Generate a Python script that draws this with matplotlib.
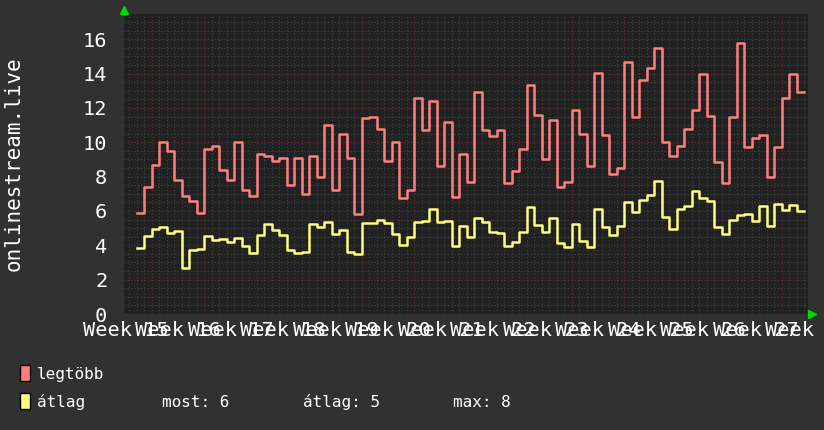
import numpy as np
import matplotlib
matplotlib.use('Agg')
from matplotlib import pyplot as plt
from matplotlib.patches import Rectangle

# daily values, day 0 = start of the second week on the chart
days = np.arange(-2, 87)

legtobb = [5.9, 7.4, 8.7, 10.0, 9.5, 7.8, 6.9, 6.6, 5.9, 9.6,
           9.8, 8.4, 7.8, 10.0, 7.2, 6.9, 9.3, 9.2, 8.9, 9.1,
           7.5, 9.1, 7.0, 9.2, 8.0, 11.0, 7.2, 10.5, 9.1, 5.8,
           11.4, 11.5, 10.8, 8.9, 10.0, 6.75, 7.2, 12.6, 10.7, 12.4,
           8.6, 11.2, 6.8, 9.3, 7.7, 12.9, 10.7, 10.35, 10.7, 7.6,
           8.3, 9.6, 13.35, 11.6, 9.0, 11.3, 7.4, 7.7, 11.9, 10.5,
           8.6, 14.05, 10.4, 8.15, 8.5, 14.65, 11.45, 13.6, 14.35, 15.5,
           10.0, 9.2, 9.8, 10.8, 11.9, 13.95, 11.55, 8.85, 7.6, 11.5,
           15.8, 9.75, 10.25, 10.4, 8.0, 9.75, 12.6, 14.0, 12.95]

atlag = [3.85, 4.55, 4.93, 5.05, 4.74, 4.84, 2.69, 3.73, 3.79, 4.55,
         4.33, 4.37, 4.2, 4.43, 3.95, 3.58, 4.58, 5.24, 4.87, 4.58,
         3.71, 3.54, 3.62, 5.24, 5.05, 5.38, 4.68, 4.87, 3.62, 3.5,
         5.28, 5.28, 5.45, 5.32, 4.68, 4.02, 4.49, 5.36, 5.4, 6.09,
         5.36, 5.4, 3.95, 5.13, 4.49, 5.59, 5.34, 4.8, 4.74, 3.97,
         4.2, 4.8, 6.21, 5.18, 4.8, 5.57, 4.16, 3.89, 5.24, 4.26,
         3.91, 6.09, 5.07, 4.6, 5.13, 6.52, 5.94, 6.63, 6.94, 7.72,
         5.63, 4.95, 6.09, 6.29, 7.14, 6.73, 6.56, 5.05, 4.66, 5.45,
         5.74, 5.82, 5.4, 6.29, 5.13, 6.4, 6.05, 6.33, 5.98]

week_labels = ['Week %d' % w for w in range(15, 29)]
y_ticks = list(range(0, 17, 2))
stats = ['most: 6', 'átlag: 5', 'max: 8']

BG = '#313131'
CANVAS = '#212121'
RED = '#ff7f7f'
YELLOW = '#ffff80'
MONO = 'DejaVu Sans Mono'

fig = plt.figure(figsize=(8.24, 4.30), dpi=100, facecolor=BG)
ax = fig.add_axes([124 / 824, (430 - 314) / 430, 684 / 824, 300 / 430])
ax.set_facecolor(CANVAS)

# step lines, one value per day
x = np.append(days, days[-1] + 1)
ax.step(x, np.append(legtobb, legtobb[-1]), where='post', color=RED, lw=1.8)
ax.step(x, np.append(atlag, atlag[-1]), where='post', color=YELLOW, lw=1.8)

ax.set_xlim(-3.69, 87.5)
ax.set_ylim(0, 17.47)

# grid: daily / half-unit minor, weekly / 2-unit major
ax.set_xticks(np.arange(0, 88, 7))
ax.set_xticks(np.arange(-3, 88, 1), minor=True)
ax.set_yticks(y_ticks, [str(v) for v in y_ticks])
ax.set_yticks(np.arange(0, 17.5, 0.5), minor=True)
ax.grid(which='minor', color='#454545', linestyle=(0, (1, 2)), lw=0.8)
ax.grid(which='major', color='#663030', linestyle=(0, (1, 2)), lw=0.8)
ax.set_axisbelow(True)
ax.tick_params(which='both', length=0, colors='white', labelsize=14.6, pad=12)
ax.tick_params(axis='x', labelbottom=False)
for lab in ax.get_yticklabels():
    lab.set_fontfamily(MONO)
for s in ax.spines.values():
    s.set_visible(False)

# overlapping week labels, centred mid-week like the original
for k, lab in enumerate(week_labels):
    ax.text(-3.5 + 7 * k, -16 / 300, lab, transform=ax.get_xaxis_transform(),
            ha='center', va='center', color='white', fontsize=14.6,
            family=MONO, clip_on=False)

# green arrows on the axes
ax.plot([0], [1.013], marker='^', color='#00dd00', ms=6, transform=ax.transAxes, clip_on=False)
ax.plot([1.006], [0], marker='>', color='#00dd00', ms=6, transform=ax.transAxes, clip_on=False)

fig.text(14 / 824, 1 - 164 / 430, 'onlinestream.live', rotation=90, ha='center',
         va='center', color='white', fontsize=15, family=MONO)

# legend
for yb, col, name in [(381, RED, 'legtöbb'), (409, YELLOW, 'átlag')]:
    fig.add_artist(Rectangle((20 / 824, 1 - yb / 430), 10 / 824, 16 / 430,
                             transform=fig.transFigure, fc=col, ec='black', lw=1))
    fig.text(37 / 824, 1 - (yb - 2) / 430, name, color='white', fontsize=11.5,
             family=MONO, va='baseline')
for xs, txt in zip([162, 303, 453], stats):
    fig.text(xs / 824, 1 - 407 / 430, txt, color='white', fontsize=11.5,
             family=MONO, va='baseline')

fig.savefig('out.png', dpi=100, facecolor=BG)
